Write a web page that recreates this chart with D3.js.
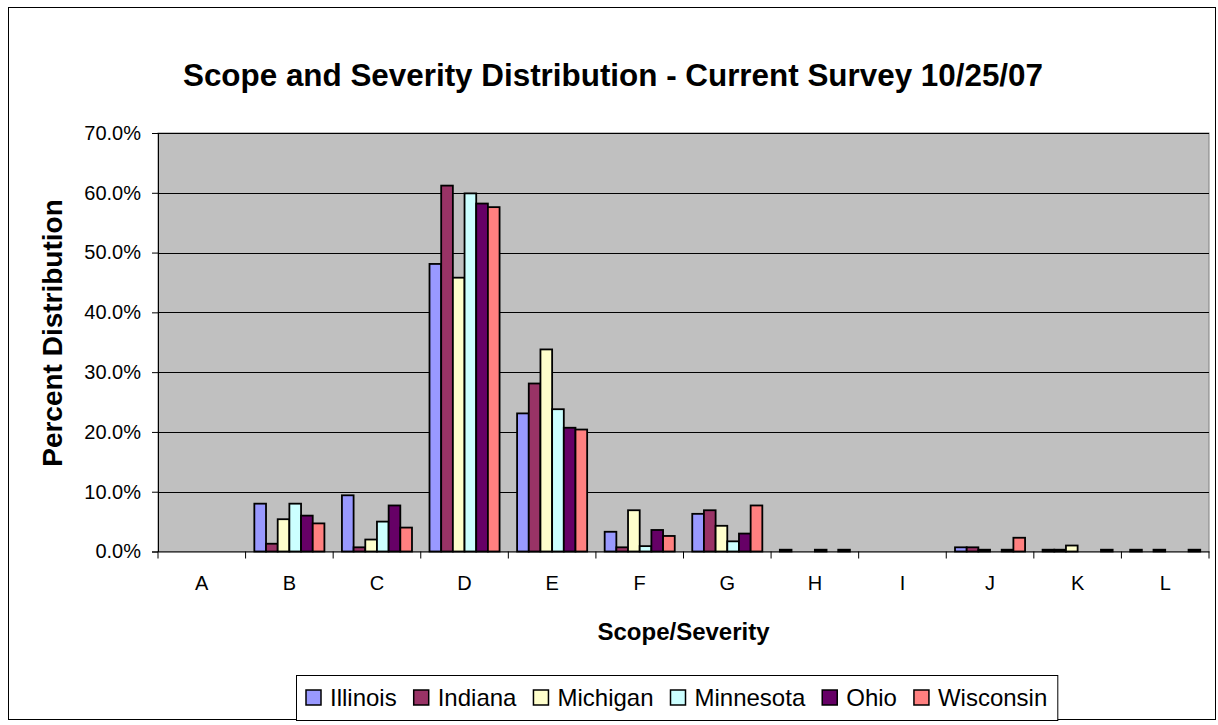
<!DOCTYPE html>
<html><head><meta charset="utf-8">
<script src="https://cdn.jsdelivr.net/npm/d3@7"></script>
<style>body{margin:0;background:#fff;} svg{display:block;font-family:"Liberation Sans",Arial,sans-serif;}</style>
</head><body>
<script>
const categories = ["A","B","C","D","E","F","G","H","I","J","K","L"];
const seriesNames = ["Illinois","Indiana","Michigan","Minnesota","Ohio","Wisconsin"];
const illinois  = [0, 8.0, 9.4, 48.1, 23.1, 3.3, 6.3, 0.3, 0, 0.7, 0.3, 0.3];
const indiana   = [0, 1.3, 0.7, 61.2, 28.1, 0.7, 6.9, 0,   0, 0.7, 0.3, 0];
const michigan  = [0, 5.4, 2.0, 45.8, 33.8, 6.9, 4.3, 0,   0, 0.3, 1.0, 0.3];
const minnesota = [0, 8.0, 5.0, 59.9, 23.8, 0.9, 1.7, 0.3, 0, 0,   0,   0];
const ohio      = [0, 6.0, 7.7, 58.2, 20.7, 3.6, 3.0, 0,   0, 0.3, 0,   0];
const wisconsin = [0, 4.7, 4.0, 57.6, 20.4, 2.6, 7.7, 0.3, 0, 2.3, 0.3, 0.3];
const yTicks = [0,10,20,30,40,50,60,70];
const colors = ["#9999FF","#993366","#FFFFCC","#CCFFFF","#660066","#FF8080"];
const titleText = "Scope and Severity Distribution - Current Survey 10/25/07";
const xTitle = "Scope/Severity";
const yTitle = "Percent Distribution";

const seriesValues = [illinois, indiana, michigan, minnesota, ohio, wisconsin];
const W = 1218, H = 725;
const m = {left:158, top:133, right:1209, bottom:551.5};

const svg = d3.select("body").append("svg").attr("width",W).attr("height",H);
svg.append("rect").attr("x",8.5).attr("y",7.5).attr("width",1207).attr("height",712)
  .attr("fill","#fff").attr("stroke","#000").attr("stroke-width",1);

svg.append("text").attr("x",613).attr("y",86).attr("text-anchor","middle")
  .attr("font-size",31.4).attr("font-weight","bold").text(titleText);

const x0 = d3.scaleBand().domain(categories).range([m.left,m.right]).paddingInner(0).paddingOuter(0);
const x1 = d3.scaleBand().domain(seriesNames).range([0,x0.bandwidth()]).paddingInner(0).paddingOuter(0.75);
const y = d3.scaleLinear().domain([0,70]).range([m.bottom,m.top]);

// plot area
svg.append("rect").attr("x",m.left).attr("y",m.top).attr("width",m.right-m.left).attr("height",m.bottom-m.top)
  .attr("fill","#C0C0C0").attr("stroke","#808080").attr("stroke-width",1);

// gridlines
svg.append("g").selectAll("line").data(yTicks.filter(d=>d>0)).join("line")
  .attr("x1",m.left).attr("x2",m.right)
  .attr("y1",d=>Math.round(y(d))+0.5).attr("y2",d=>Math.round(y(d))+0.5)
  .attr("stroke","#000").attr("stroke-width",1);

// bars
const gBars = svg.append("g");
categories.forEach((c,ci)=>{
  seriesNames.forEach((s,si)=>{
    const v = seriesValues[si][ci];
    if (v<=0) return;
    const bx = x0(c)+x1(s);
    gBars.append("rect")
      .attr("x",bx).attr("y",y(v))
      .attr("width",x1.bandwidth()).attr("height",y(0)-y(v))
      .attr("fill",colors[si]).attr("stroke","#000").attr("stroke-width",1.8);
  });
});

// y axis
const yAxis = d3.axisLeft(y).tickValues(yTicks).tickSize(6).tickFormat(d=>d.toFixed(1)+"%");
const gy = svg.append("g").attr("transform",`translate(${m.left},0)`).call(yAxis);
gy.select(".domain").attr("stroke","#000");
gy.selectAll(".tick line").attr("stroke","#000");
gy.selectAll("text").attr("font-size",20).attr("fill","#000").attr("x",-17).attr("font-family","Liberation Sans, Arial, sans-serif");

// x axis
const xAxis = d3.axisBottom(x0).tickSize(0);
const gx = svg.append("g").attr("transform",`translate(0,${m.bottom})`).call(xAxis);
gx.select(".domain").attr("stroke","#000");
gx.selectAll("text").attr("font-size",20).attr("fill","#000").attr("dy","1.75em").attr("font-family","Liberation Sans, Arial, sans-serif");
// category separator tick marks
svg.append("g").selectAll("line").data(d3.range(categories.length+1)).join("line")
  .attr("x1",i=>m.left+i*x0.step()).attr("x2",i=>m.left+i*x0.step())
  .attr("y1",m.bottom).attr("y2",m.bottom+7).attr("stroke","#000");

// axis titles
svg.append("text").attr("x",(m.left+m.right)/2).attr("y",640).attr("text-anchor","middle")
  .attr("font-size",24).attr("font-weight","bold").text(xTitle);
svg.append("text").attr("transform","translate(62,333) rotate(-90)").attr("text-anchor","middle")
  .attr("font-size",28).attr("font-weight","bold").text(yTitle);

// legend
const lg = svg.append("g");
const fs = 24, sq = 15, gapT = 9, gapI = 17;
let cx = 306;
seriesNames.forEach((s,i)=>{
  const t = lg.append("text").attr("y",706).attr("font-size",fs).text(s);
  t.attr("x", cx+sq+gapT);
  lg.append("rect").attr("x",cx).attr("y",690).attr("width",sq).attr("height",sq)
    .attr("fill",colors[i]).attr("stroke","#000").attr("stroke-width",1.5);
  const w = t.node().getComputedTextLength();
  cx += sq+gapT+w+gapI;
});
const lgRight = cx - gapI + 10;
lg.insert("rect",":first-child").attr("x",296.5).attr("y",675.5).attr("width",lgRight-296).attr("height",45)
  .attr("fill","#fff").attr("stroke","#000").attr("stroke-width",1);
</script>
</body></html>
